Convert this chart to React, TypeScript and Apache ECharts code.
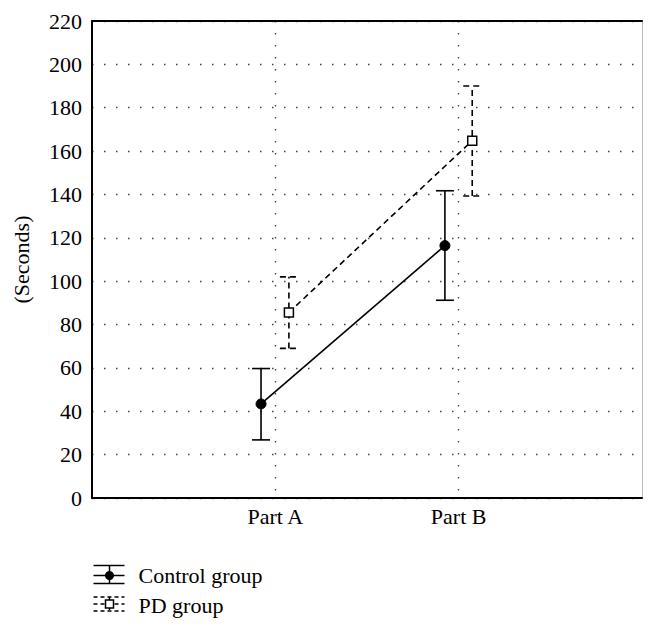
import React, { useEffect, useRef } from "react";
import * as echarts from "echarts";

const categories = ["Part A", "Part B"];
const yTicks = [0, 20, 40, 60, 80, 100, 120, 140, 160, 180, 200, 220];

const controlX = [0.922, 1.925];
const controlMean = [43.4, 116.4];
const controlLow = [26.8, 91.2];
const controlHigh = [59.7, 141.7];

const pdX = [1.074, 2.074];
const pdMean = [85.6, 164.8];
const pdLow = [69.0, 139.3];
const pdHigh = [102.0, 190.0];

const FONT = "Liberation Serif";
const FS = 22;

function errorSeries(name: string, xs: number[], lows: number[], highs: number[], dashed: boolean) {
  return {
    name: name + " err",
    type: "custom",
    xAxisIndex: 0,
    yAxisIndex: 0,
    z: 3,
    renderItem: (params: any, api: any) => {
      const x = api.value(0);
      const lo = api.coord([x, api.value(1)]);
      const hi = api.coord([x, api.value(2)]);
      const hw = 9;
      const style = {
        stroke: "#000",
        lineWidth: 1.6,
        lineDash: dashed ? [6, 4] : null,
        fill: "none",
      };
      return {
        type: "group",
        children: [
          { type: "line", shape: { x1: lo[0], y1: lo[1], x2: hi[0], y2: hi[1] }, style },
          { type: "line", shape: { x1: hi[0] - hw, y1: hi[1], x2: hi[0] + hw, y2: hi[1] }, style },
          { type: "line", shape: { x1: lo[0] - hw, y1: lo[1], x2: lo[0] + hw, y2: lo[1] }, style },
        ],
      };
    },
    data: xs.map((x, i) => [x, lows[i], highs[i]]),
  };
}

export default function App() {
  const ref = useRef<HTMLDivElement>(null);
  useEffect(() => {
    if (!ref.current) return;
    const chart = echarts.init(ref.current, null, { renderer: "svg" });
    const gridDot = { color: "#444", width: 1.4, type: [1.5, 10.5] as any };
    chart.setOption({
      animation: false,
      backgroundColor: "#fff",
      textStyle: { fontFamily: FONT },
      grid: { left: 92, right: 14, top: 21, bottom: 130, containLabel: false },
      xAxis: [
        {
          type: "value",
          min: 0,
          max: 3,
          interval: 1,
          axisLine: { show: true, onZero: false, lineStyle: { color: "#000", width: 2 } },
          axisTick: { show: false },
          axisLabel: {
            fontFamily: FONT,
            fontSize: FS,
            color: "#000",
            margin: 7,
            formatter: (v: number) => (v >= 1 && v <= categories.length && Number.isInteger(v) ? categories[v - 1] : ""),
          },
          splitLine: {
            show: true,
            lineStyle: { ...gridDot, color: ["rgba(0,0,0,0)", "#444", "#444", "rgba(0,0,0,0)"] },
          },
        },
        {
          type: "value",
          position: "top",
          min: 0,
          max: 3,
          interval: 1,
          axisLine: { show: true, onZero: false, lineStyle: { color: "#000", width: 2 } },
          axisTick: { show: false },
          axisLabel: { show: false },
          splitLine: { show: false },
        },
      ],
      yAxis: [
        {
          type: "value",
          min: 0,
          max: 220,
          interval: 20,
          name: "(Seconds)",
          nameLocation: "middle",
          nameGap: 60,
          nameRotate: 90,
          nameTextStyle: { fontFamily: FONT, fontSize: FS, color: "#000" },
          axisLine: { show: true, onZero: false, lineStyle: { color: "#000", width: 2 } },
          axisTick: { show: false },
          axisLabel: {
            fontFamily: FONT,
            fontSize: FS,
            color: "#000",
            margin: 10,
            formatter: (v: number) => (yTicks.includes(v) ? String(v) : ""),
          },
          splitLine: { show: true, lineStyle: gridDot },
        },
        {
          type: "value",
          position: "right",
          min: 0,
          max: 220,
          interval: 20,
          axisLine: { show: true, onZero: false, lineStyle: { color: "#bbb", width: 1 } },
          axisTick: { show: false },
          axisLabel: { show: false },
          splitLine: { show: false },
        },
      ],
      series: [
        errorSeries("Control group", controlX, controlLow, controlHigh, false),
        errorSeries("PD group", pdX, pdLow, pdHigh, true),
        {
          name: "Control group",
          type: "line",
          z: 4,
          data: controlX.map((x, i) => [x, controlMean[i]]),
          lineStyle: { color: "#000", width: 1.6, type: "solid" },
          symbol: "circle",
          symbolSize: 10,
          itemStyle: { color: "#000", borderColor: "#000" },
        },
        {
          name: "PD group",
          type: "line",
          z: 4,
          data: pdX.map((x, i) => [x, pdMean[i]]),
          lineStyle: { color: "#000", width: 1.6, type: [6, 4] },
          symbol: "rect",
          symbolSize: 9,
          itemStyle: { color: "#fff", borderColor: "#000", borderWidth: 1.5 },
        },
      ],
      graphic: [
        {
          type: "group",
          left: 91,
          top: 563,
          children: [
            { type: "line", shape: { x1: 0, y1: 1, x2: 31, y2: 1 }, style: { stroke: "#000", lineWidth: 1.5 } },
            { type: "line", shape: { x1: 0, y1: 11, x2: 31, y2: 11 }, style: { stroke: "#000", lineWidth: 1.5 } },
            { type: "line", shape: { x1: 0, y1: 19, x2: 31, y2: 19 }, style: { stroke: "#000", lineWidth: 1.5 } },
            { type: "line", shape: { x1: 16, y1: 1, x2: 16, y2: 19 }, style: { stroke: "#000", lineWidth: 1.5 } },
            { type: "circle", shape: { cx: 16, cy: 11, r: 4.5 }, style: { fill: "#000" } },
            {
              type: "text",
              x: 45,
              y: 11,
              style: { text: "Control group", font: `${FS}px '${FONT}'`, fill: "#000", textVerticalAlign: "middle" },
            },
          ],
        },
        {
          type: "group",
          left: 91,
          top: 594,
          children: [
            { type: "line", shape: { x1: 0, y1: 1, x2: 31, y2: 1 }, style: { stroke: "#000", lineWidth: 1.5, lineDash: [4, 3] } },
            { type: "line", shape: { x1: 0, y1: 8, x2: 31, y2: 8 }, style: { stroke: "#000", lineWidth: 1.5, lineDash: [4, 3] } },
            { type: "line", shape: { x1: 0, y1: 15, x2: 31, y2: 15 }, style: { stroke: "#000", lineWidth: 1.5, lineDash: [4, 3] } },
            { type: "line", shape: { x1: 16, y1: 1, x2: 16, y2: 15 }, style: { stroke: "#000", lineWidth: 1.5, lineDash: [3, 2] } },
            { type: "rect", shape: { x: 12, y: 4, width: 8, height: 8 }, style: { fill: "#fff", stroke: "#000", lineWidth: 1.5 } },
            {
              type: "text",
              x: 45,
              y: 9,
              style: { text: "PD group", font: `${FS}px '${FONT}'`, fill: "#000", textVerticalAlign: "middle" },
            },
          ],
        },
      ],
    });
    return () => chart.dispose();
  }, []);
  return <div ref={ref} style={{ width: 656, height: 628, position: "absolute", left: 0, top: 0 }} />;
}
